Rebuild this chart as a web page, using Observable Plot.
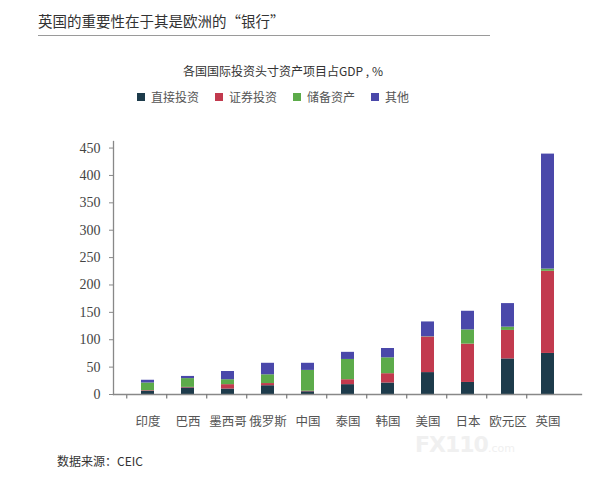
<!DOCTYPE html>
<html>
<head>
<meta charset="utf-8">
<script src="https://cdn.jsdelivr.net/npm/d3@7"></script>
<script src="https://cdn.jsdelivr.net/npm/@observablehq/plot@0.6"></script>
<style>
  html, body { margin: 0; padding: 0; background: #fff; }
  body { width: 615px; height: 482px; position: relative; overflow: hidden; font-family: "Noto Sans CJK SC", "Noto Sans", sans-serif; }
  #title { position: absolute; left: 38px; top: 10px; font-size: 14.5px; color: #333; white-space: nowrap; }
  #rule { position: absolute; left: 38px; top: 35px; width: 452px; height: 0; border-top: 1px solid #9a9a9a; }
  #subtitle { position: absolute; left: 0; width: 566px; top: 62px; text-align: center; font-size: 12px; color: #333; white-space: nowrap; }
  #legend { position: absolute; left: 137px; top: 88px; font-size: 12px; color: #555; white-space: nowrap; display: flex; }
  #legend .item { display: flex; align-items: center; margin-right: 16px; }
  #legend .sw { width: 8px; height: 8px; margin-right: 6px; }
  #chart { position: absolute; left: 0; top: 120px; }
  #caption { position: absolute; left: 57px; top: 452px; font-size: 12px; color: #333; }
  #wm { position: absolute; left: 415px; top: 432px; font-size: 22px; font-weight: bold; color: #f0f0f0; font-family: "DejaVu Sans", sans-serif; letter-spacing: -1px; }
  #wm span { font-size: 11px; font-weight: normal; letter-spacing: 0; }
</style>
</head>
<body>
<div id="title">英国的重要性在于其是欧洲的“银行”</div>
<div id="rule"></div>
<div id="subtitle">各国国际投资头寸资产项目占GDP , %</div>
<div id="legend"></div>
<div id="chart"></div>
<div id="wm">FX110<span>.com</span></div>
<div id="caption">数据来源：CEIC</div>
<script>
const countries = ["印度", "巴西", "墨西哥", "俄罗斯", "中国", "泰国", "韩国", "美国", "日本", "欧元区", "英国"];
const types = ["直接投资", "证券投资", "储备资产", "其他"];
const colors = ["#1d3b4b", "#c23a4e", "#5cab4a", "#4a48aa"];
const directInvestment = [6, 12, 10, 16, 5, 18, 21, 40, 22, 65, 75];
const portfolioInvestment = [1, 1, 8, 4, 1, 9, 17, 65, 70, 52, 150];
const reserveAssets = [14, 16, 9, 16, 38, 37, 29, 0.5, 26, 6, 4];
const otherAssets = [5, 4, 15, 21, 13, 13, 17, 27, 34, 43, 210];
const yTicks = [0, 50, 100, 150, 200, 250, 300, 350, 400, 450];

const series = [directInvestment, portfolioInvestment, reserveAssets, otherAssets];
const data = [];
countries.forEach((c, i) => {
  types.forEach((t, j) => data.push({country: c, type: t, value: series[j][i]}));
});

// legend
const legend = document.getElementById("legend");
types.forEach((t, j) => {
  const it = document.createElement("div");
  it.className = "item";
  it.innerHTML = `<div class="sw" style="background:${colors[j]}"></div><span>${t}</span>`;
  legend.appendChild(it);
});

const W = 615, ML = 113, MR = 34;
const step = (W - ML - MR) / countries.length;

const chart = Plot.plot({
  width: W,
  height: 316,
  marginLeft: ML,
  marginRight: MR,
  marginTop: 21,
  marginBottom: 42,
  style: {fontFamily: "'Liberation Serif', 'Noto Sans CJK SC', serif", fontSize: "14px", color: "#444", background: "transparent"},
  x: {domain: countries, padding: 0.68, label: null},
  y: {domain: [0, 462], label: null},
  color: {domain: types, range: colors},
  marks: [
    Plot.barY(data, {x: "country", y: "value", fill: "type"}),
    Plot.axisY({ticks: yTicks, tickSize: 4, tickPadding: 9, stroke: "#888", fill: "#444", fontSize: 14, label: null}),
    Plot.axisX({tickSize: 0, tickPadding: 23, fill: "#555", fontSize: 12.5, fontFamily: "'Noto Sans CJK SC', sans-serif", label: null}),
    Plot.frame({anchor: "left", stroke: "#888", strokeWidth: 1.3}),
    Plot.frame({anchor: "bottom", stroke: "#888", strokeWidth: 1.3}),
    Plot.ruleX(countries.slice(1), {x: d => d, dx: -step / 2, y1: 0, y2: -8, stroke: "#777", strokeWidth: 1.2, clip: false}),
    Plot.ruleX(countries.slice(0, 1), {x: d => d, dx: -step / 2, y1: 0, y2: -8, stroke: "#888", strokeWidth: 1.3, clip: false})
  ]
});
document.getElementById("chart").appendChild(chart);
</script>
</body>
</html>
